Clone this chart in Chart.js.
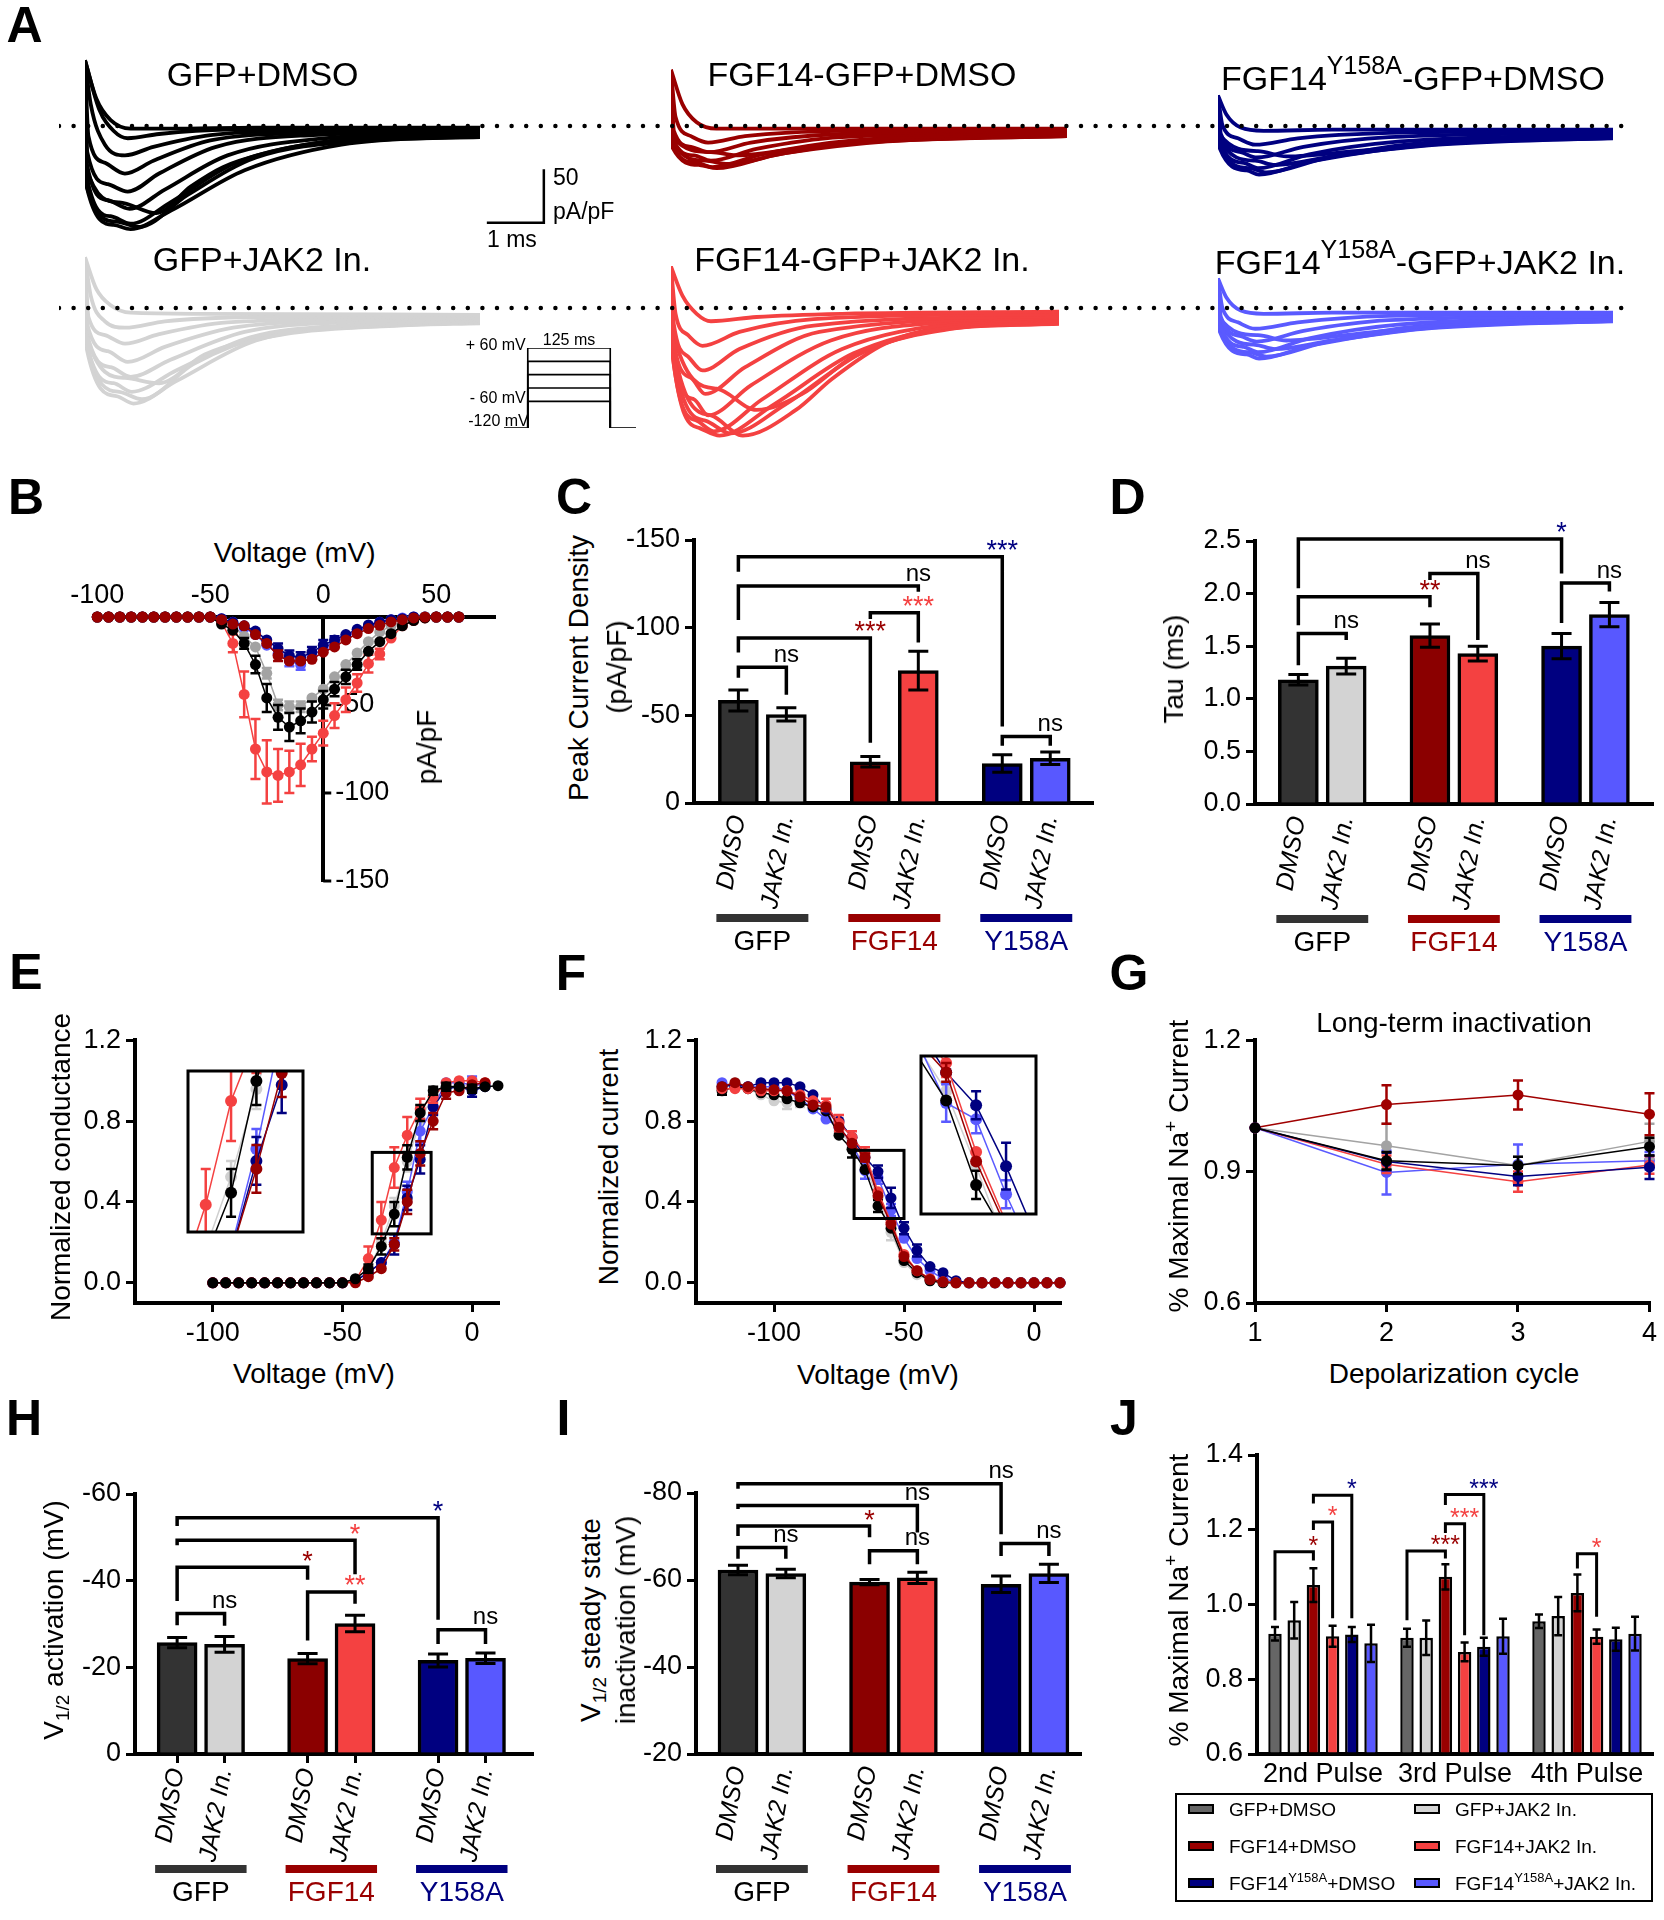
<!DOCTYPE html>
<html>
<head>
<meta charset="utf-8">
<title>FGF14 / JAK2 inhibition of Nav1.6 currents</title>
<script src="https://cdn.jsdelivr.net/npm/chart.js@4.4.1/dist/chart.umd.min.js"></script>
<style>
  body { margin: 0; background: #fff; }
  #page { position: relative; width: 1664px; height: 1920px; overflow: hidden; background: #fff;
          font-family: "Liberation Sans", Arial, Helvetica, sans-serif; color: #000; }
  #page canvas { position: absolute; }
  .t { position: absolute; white-space: nowrap; line-height: 1; z-index: 5; }
  .sup { font-size: 25px; position: relative; top: -16px; }
  .hsup { font-size: 19px; position: relative; top: -11px; }
  .sub { font-size: 19px; position: relative; top: 6px; }
  .lsup { font-size: 13px; position: relative; top: -8px; }
  #legendJ { position: absolute; left: 1175px; top: 1793px; width: 478px; height: 109px;
             border: 2.5px solid #000; box-sizing: border-box; z-index: 5; }
  #legendJ .sw { position: absolute; width: 26px; height: 10px; border: 2px solid #000; box-sizing: border-box; }
  #legendJ .lt { position: absolute; font-size: 19px; line-height: 1; white-space: nowrap; transform: translateY(-50%); }
</style>
</head>
<body>
<div id="page"></div>
<script>
// ---------------- data ----------------

// A: example current traces, each point is [time (ms), current (pA/pF)]
const traceGfpDmso = [
  [[0,61],[0.2,25],[0.45,5],[0.8,-3],[1.5,-3],[3,-2],[6.93,-2]],
  [[0,61],[0.25,15],[0.5,-5],[0.75,-12],[1.3,-8],[2.5,-4],[6.93,-3]],
  [[0,61],[0.1,20],[0.35,-18],[0.7,-28],[1.2,-20],[2.2,-9],[4,-5],[6.93,-4]],
  [[0,61],[0.06,-10],[0.35,-35],[0.7,-45],[1.2,-33],[2.2,-14],[4,-7],[6.93,-5]],
  [[0,61],[0.04,-25],[0.4,-55],[0.75,-62],[1.3,-45],[2.3,-20],[4,-9],[6.93,-6]],
  [[0,61],[0.03,-35],[0.4,-70],[0.78,-78],[1.4,-60],[2.5,-28],[4.2,-12],[6.93,-7]],
  [[0,61],[0.02,-45],[0.45,-85],[0.8,-92],[1.5,-72],[2.6,-36],[4.3,-15],[6.93,-9]],
  [[0,61],[0.02,-55],[0.5,-93],[0.8,-97],[1.5,-80],[2.8,-42],[4.5,-18],[6.93,-10]],
  [[0,61],[0.02,-55],[0.55,-90],[0.95,-95],[1.8,-65],[3,-30],[5,-14],[6.93,-11]],
  [[0,61],[0.02,-40],[0.6,-72],[1.25,-82],[1.86,-57],[2.42,-39],[3.16,-26],[4.1,-16],[5,-11.5],[6.93,-10.5]]
];
const traceGfpJak = [
  [[0,48],[0.2,18],[0.45,3],[0.8,-4],[2,-5],[6.93,-6]],
  [[0,48],[0.1,12],[0.35,-12],[0.7,-18],[1.4,-12],[3,-8],[6.93,-7]],
  [[0,48],[0.06,-8],[0.35,-25],[0.7,-33],[1.3,-24],[2.5,-13],[6.93,-8]],
  [[0,48],[0.04,-15],[0.4,-40],[0.75,-50],[1.4,-36],[2.6,-18],[4.5,-11],[6.93,-9]],
  [[0,48],[0.03,-22],[0.45,-55],[0.8,-64],[1.5,-48],[2.8,-22],[4.5,-13],[6.93,-10]],
  [[0,48],[0.02,-30],[0.5,-70],[0.82,-78],[1.6,-58],[2.9,-27],[4.8,-15],[6.93,-11]],
  [[0,48],[0.02,-35],[0.55,-82],[0.85,-89],[1.6,-68],[3,-30],[5,-16],[6.93,-12]],
  [[0,48],[0.02,-32],[0.6,-78],[1.0,-85],[1.9,-52],[3.2,-25],[5,-17],[6.93,-13]],
  [[0,48],[0.02,-25],[0.7,-65],[1.3,-70],[2.1,-43],[3.5,-24],[5.5,-16],[6.93,-14]]
];
const traceFgfDmso = [
  [[0,52],[0.2,20],[0.45,3],[0.8,-3],[2,-3],[6.95,-3]],
  [[0,52],[0.08,8],[0.35,-10],[0.65,-16],[1.3,-10],[3,-5],[6.95,-4]],
  [[0,52],[0.05,-5],[0.35,-20],[0.68,-25],[1.4,-16],[3,-8],[6.95,-5]],
  [[0,52],[0.03,-12],[0.4,-28],[0.7,-33],[1.5,-22],[3,-11],[6.95,-7]],
  [[0,52],[0.02,-18],[0.45,-35],[0.72,-39],[1.6,-27],[3.2,-14],[6.95,-8]],
  [[0,52],[0.02,-20],[0.5,-37],[0.8,-40],[1.8,-28],[3.5,-15],[6.95,-9]],
  [[0,52],[0.02,-15],[0.6,-33],[1.0,-36],[2.0,-26],[3.8,-15],[6.95,-10]],
  [[0,52],[0.02,-10],[0.7,-25],[1.2,-28],[2.3,-21],[4,-14],[6.95,-10]]
];
const traceFgfJak = [
  [[0,39],[0.2,12],[0.45,-5],[0.7,-12],[1.5,-8],[3,-5],[6.8,-3]],
  [[0,39],[0.08,-5],[0.3,-25],[0.55,-35],[1.2,-22],[2.5,-10],[6.8,-5]],
  [[0,39],[0.05,-15],[0.3,-45],[0.55,-58],[1.2,-38],[2.5,-16],[6.8,-7]],
  [[0,39],[0.03,-25],[0.35,-65],[0.6,-80],[1.3,-55],[2.6,-22],[6.8,-8]],
  [[0,39],[0.02,-35],[0.4,-85],[0.65,-100],[1.4,-72],[2.8,-30],[5,-12],[6.8,-9]],
  [[0,39],[0.02,-40],[0.45,-105],[0.75,-115],[1.6,-85],[3,-38],[5,-14],[6.8,-10]],
  [[0,39],[0.02,-40],[0.5,-112],[0.85,-119],[1.8,-90],[3.2,-42],[5,-16],[6.8,-11]],
  [[0,39],[0.02,-35],[0.6,-105],[1.05,-117],[2,-90],[3.4,-40],[5.2,-17],[6.8,-12]],
  [[0,39],[0.02,-30],[0.7,-100],[1.26,-119],[2.19,-95],[2.82,-66],[3.75,-33],[4.68,-19],[6.8,-14.5]],
  [[0,39],[0.02,-20],[0.8,-75],[1.5,-95],[2.3,-80],[3.2,-45],[4.5,-22],[6.8,-14]]
];
const traceMutDmso = [
  [[0,28],[0.15,10],[0.4,-2],[0.8,-5],[2,-4],[6.93,-4]],
  [[0,28],[0.08,0],[0.35,-12],[0.65,-18],[1.4,-12],[3,-7],[6.93,-5]],
  [[0,28],[0.05,-8],[0.4,-25],[0.68,-30],[1.5,-20],[3,-11],[6.93,-7]],
  [[0,28],[0.03,-15],[0.45,-35],[0.7,-40],[1.6,-27],[3.2,-15],[6.93,-9]],
  [[0,28],[0.02,-20],[0.5,-42],[0.72,-46],[1.6,-34],[3.3,-18],[6.93,-10]],
  [[0,28],[0.02,-18],[0.55,-40],[0.85,-44],[1.8,-32],[3.5,-19],[6.93,-11]],
  [[0,28],[0.02,-12],[0.65,-33],[1.0,-37],[2.0,-29],[3.6,-19],[6.93,-11.5]],
  [[0,28],[0.02,-8],[0.7,-24],[1.2,-29],[2.4,-24],[4,-16],[6.93,-12]]
];
const traceMutJak = [
  [[0,28],[0.15,10],[0.4,-2],[0.8,-5],[2,-4],[6.93,-4]],
  [[0,28],[0.08,0],[0.35,-13],[0.65,-19],[1.4,-13],[3,-7],[6.93,-5]],
  [[0,28],[0.05,-8],[0.4,-26],[0.68,-31],[1.5,-21],[3,-11],[6.93,-7]],
  [[0,28],[0.03,-15],[0.45,-36],[0.7,-41],[1.6,-28],[3.2,-15],[6.93,-9]],
  [[0,28],[0.02,-20],[0.5,-43],[0.72,-47],[1.6,-35],[3.3,-18],[6.93,-10]],
  [[0,28],[0.02,-18],[0.55,-41],[0.85,-45],[1.8,-33],[3.5,-19],[6.93,-11]],
  [[0,28],[0.02,-12],[0.65,-34],[1.0,-38],[2.0,-30],[3.6,-19],[6.93,-11.5]],
  [[0,28],[0.02,-8],[0.7,-25],[1.2,-30],[2.4,-24],[4,-16],[6.93,-12]]
];
const scaleBarMs = 1;
const scaleBarPA = 50;
const protocolSteps = [60, 30, 0, -30, -60];   // mV
const protocolHold = -120;                      // mV
const protocolTimes = [-36, 0, 125, 164];       // ms

// B: current-voltage relationship (pA/pF)
const ivVoltage = [-100,-95,-90,-85,-80,-75,-70,-65,-60,-55,-50, -45,-40,-35,-30,-25,-20,-15,-10,-5,0,5, 10,15,20,25,30,35,40,45,50,55,60];
const ivGfpDmso = [0,0,0,0,0,0,0,0,0,0,0, -4,-7.5,-15,-27,-46,-57,-62.5,-59,-54,-47,-41, -34,-27,-19.5,-14,-9.5,-5,-2,-0.5,0,0,0];
const ivGfpJak  = [0,0,0,0,0,0,0,0,0,0,0, -2,-5,-11,-17,-32,-50,-51,-51,-46,-41,-34, -27,-20.5,-14,-8.5,-5,-3,-1,0,0,0,0];
const ivFgfDmso = [0,0,0,0,0,0,0,0,0,0,0, -1.5,-4,-5,-10,-15,-22,-25,-25,-24,-20,-17, -13,-9.5,-6.6,-4.7,-2.8,-1.5,-0.5,0,0,0,0];
const ivFgfJak  = [0,0,0,0,0,0,0,0,0,0,0, -3,-15,-44,-75,-88,-90,-88,-84,-75,-66,-56, -47,-37.5,-26.5,-21,-12,-5,-2,-0.5,0,0,0];
const ivMutDmso = [0,0,0,0,0,0,0,0,0,0,0, -1,-3,-5,-8,-13,-18,-22,-23,-20,-16,-13, -10,-7,-4.5,-3,-1.5,-1,0,0,0,0,0];
const ivMutJak  = [0,0,0,0,0,0,0,0,0,0,0, -1,-3,-6,-10,-16,-21,-25,-27,-22,-18,-14, -11,-8,-5,-3,-1.5,-0.5,0,0,0,0,0];
const ivGfpDmsoErr = [0,0,0,0,0,0,0,0,0,0,0, 0,0,3,5,8,7,8,7,6,5,4, 4,3,0,0,0,0,0,0,0,0,0];
const ivGfpJakErr  = [0,0,0,0,0,0,0,0,0,0,0, 0,0,0,0,3,3,3,3,0,0,0, 0,0,0,0,0,0,0,0,0,0,0];
const ivFgfDmsoErr = [0,0,0,0,0,0,0,0,0,0,0, 0,0,0,0,0,3,0,0,0,0,0, 0,0,0,0,0,0,0,0,0,0,0];
const ivFgfJakErr  = [0,0,0,0,0,0,0,0,0,0,0, 0,5,13,17,18,15,12,12,7,7,7, 7,5,5,3,0,0,0,0,0,0,0];
const ivMutDmsoErr = [0,0,0,0,0,0,0,0,0,0,0, 0,0,0,0,0,3,3,3,3,3,2, 0,0,0,0,0,0,0,0,0,0,0];
const ivMutJakErr  = [0,0,0,0,0,0,0,0,0,0,0, 0,0,0,0,0,0,3,3,0,0,0, 0,0,0,0,0,0,0,0,0,0,0];
const ivXTicks = [-100, -50, 0, 50];
const ivYTicks = [-50, -100, -150];

// C, D, H, I: bar summaries
const barLabels = ['DMSO', 'JAK2 In.', 'DMSO', 'JAK2 In.', 'DMSO', 'JAK2 In.'];
const barPos = [0, 1, 2.75, 3.75, 5.5, 6.5];
const barGroups = [[0, 1, 'GFP', '#333333', '#000000'], [2, 3, 'FGF14', '#990000', '#990000'], [4, 5, 'Y158A', '#000080', '#000080']];
const peakDensity    = [-58.5, -50.5, -23.5, -75.5, -22.5, -25.5];
const peakDensityErr = [6, 3.8, 3, 11, 5, 3.6];
const tauMs          = [1.18, 1.31, 1.60, 1.43, 1.50, 1.80];
const tauErr         = [0.05, 0.075, 0.11, 0.07, 0.12, 0.115];
const vHalfAct       = [-25.7, -25.3, -22.0, -30.1, -21.6, -22.1];
const vHalfActErr    = [1.2, 1.8, 1.2, 1.9, 1.5, 1.2];
const vHalfInact     = [-62.3, -61.5, -59.5, -60.5, -59.0, -61.5];
const vHalfInactErr  = [1.1, 1.0, 0.6, 1.3, 1.9, 2.1];

// significance brackets: [barA, barB, level, end of leg A, end of leg B, label, colour]
const DR = '#990000', RD = '#f44141', NV = '#000080', BK = '#000000';
const peakBrackets = [[0,1,-77.4,-71.4,-61.7,'ns',BK], [0,2,-94.1,-85.8,-34.3,'***',DR], [2,3,-108.5,-105,-91.5,'***',RD],
                      [0,3,-123.7,-104.4,-120.5,'ns',BK], [0,4,-140.4,-131.9,-43.6,'***',NV], [4,5,-37.9,-32.6,-32.6,'ns',BK]];
const tauBrackets  = [[0,1,1.62,1.32,1.56,'ns',BK], [0,2,1.97,1.70,1.87,'**',DR], [2,3,2.19,2.13,1.56,'ns',BK],
                      [0,4,2.52,2.05,2.19,'*',NV], [4,5,2.10,1.72,2.02,'ns',BK]];
const actBrackets  = [[0,1,-32.4,-29.7,-29.6,'ns',BK], [2,3,-37.4,-26.2,-34.7,'**',RD], [0,2,-43.1,-35.3,-40.2,'*',DR],
                      [0,3,-49.3,-48.2,-41.5,'*',RD], [0,4,-54.5,-52.6,-31,'*',NV], [4,5,-28.7,-25.4,-25.4,'ns',BK]];
const inactBrackets = [[0,1,-67.5,-64.9,-64.9,'ns',BK], [0,2,-72.4,-70.1,-69.8,'*',DR], [2,3,-66.7,-63.6,-63.6,'ns',BK],
                       [0,3,-77.1,-76.3,-70.9,'ns',BK], [0,4,-82.1,-81,-70.5,'ns',BK], [4,5,-68.4,-65.5,-65.5,'ns',BK]];

// E: conductance-voltage
const gvVoltage = [-100,-95,-90,-85,-80,-75,-70,-65,-60,-55,-50,-45,-40,-35,-30,-25,-20,-15,-10,-5,0,5,10];
const gvGfpDmso = [0,0,0,0,0,0,0,0,0,0,0, 0.02,0.07,0.18,0.34,0.62,0.84,0.95,0.97,0.97,0.96,0.97,0.975];
const gvGfpJak  = [0,0,0,0,0,0,0,0,0,0,0, 0.01,0.06,0.2,0.38,0.6,0.8,0.93,0.97,0.98,0.97,0.98,null];
const gvFgfDmso = [0,0,0,0,0,0,0,0,0,0,0, 0,0.03,0.07,0.19,0.40,0.64,0.80,0.94,0.95,0.98,0.99,null];
const gvFgfJak  = [0,0,0,0,0,0,0,0,0,0,0, 0.01,0.12,0.31,0.57,0.73,0.86,0.92,0.99,1.0,1.0,0.99,null];
const gvMutDmso = [0,0,0,0,0,0,0,0,0,0,0, 0.01,0.05,0.1,0.19,0.42,0.61,0.87,0.96,0.97,0.95,0.97,null];
const gvMutJak  = [0,0,0,0,0,0,0,0,0,0,0, 0.01,0.05,0.1,0.2,0.45,0.75,0.87,0.99,0.99,0.98,0.98,null];
const gvGfpDmsoErr = [0,0,0,0,0,0,0,0,0,0,0,0,.02,.04,.06,.06,.04,.02,.02,0,.02,0,0];
const gvGfpJakErr  = [0,0,0,0,0,0,0,0,0,0,0,0,0,0,.04,.05,0,0,0,0,0,0,0];
const gvFgfDmsoErr = [0,0,0,0,0,0,0,0,0,0,0,0,0,0,.03,.06,.06,.04,.03,0,0,0,0];
const gvFgfJakErr  = [0,0,0,0,0,0,0,0,0,0,0,0,.06,.09,.1,.09,.05,.03,0,0,0,0,0];
const gvMutDmsoErr = [0,0,0,0,0,0,0,0,0,0,0,0,0,0,.05,.06,.07,.04,0,0,.03,0,0];
const gvMutJakErr  = [0,0,0,0,0,0,0,0,0,0,0,0,0,0,0,.05,.06,0,0,0,.04,0,0];
const gvInsetX = [-38.5, -15.8];
const gvInsetY = [0.242, 0.645];

// F: steady-state inactivation
const ssiVoltage = [-120,-115,-110,-105,-100,-95,-90,-85,-80, -75,-70,-65,-60,-55,-50,-45,-40,-35, -30,-25,-20,-15,-10,-5,0,5,10];
const ssiGfpDmso = [.95,.97,.96,.94,.93,.91,.89,.87,.85, .73,.66,.56,.38,.27,.11,.05,.01,0, 0,0,0,0,0,0,0,0,0];
const ssiGfpJak  = [.97,.99,.96,.93,.90,.89,.91,.89,.84, .75,.68,.58,.42,.25,.10,.04,.01,0, 0,0,0,0,0,0,0,0,0];
const ssiFgfDmso = [.97,.99,.97,.96,.955,.95,.92,.88,.87, .77,.69,.62,.43,.29,.13,.06,.016,.005, 0,0,0,0,0,0,0,0,0];
const ssiFgfJak  = [.96,.96,.96,.95,.95,.95,.93,.90,.88, .79,.72,.64,.45,.30,.14,.06,.02,.005, 0,0,0,0,0,0,0,0,0];
const ssiMutDmso = [.97,.98,.97,.99,.99,.99,.97,.93,.86, .80,.72,.62,.55,.42,.27,.16,.08,.05, .01,0,0,0,0,0,0,0,0];
const ssiMutJak  = [.99,.97,.97,.97,.97,.95,.91,.86,.81, .77,.69,.555,.52,.36,.22,.12,.06,.02, .005,0,0,0,0,0,0,0,0];
const ssiGfpDmsoErr = [.02,0,0,0,0,0,0,0,0, 0,.04,0,.03,0,0,0,0,0, 0,0,0,0,0,0,0,0,0];
const ssiGfpJakErr  = [0,0,0,0,0,.03,.04,0,0, 0,0,0,0,.04,0,0,0,0, 0,0,0,0,0,0,0,0,0];
const ssiFgfDmsoErr = [0,0,0,0,0,0,0,0,0, 0,0,.02,0,0,0,0,0,0, 0,0,0,0,0,0,0,0,0];
const ssiFgfJakErr  = [0,0,0,0,0,0,0,0,.03, .04,.03,.03,0,0,0,0,0,0, 0,0,0,0,0,0,0,0,0];
const ssiMutDmsoErr = [0,0,0,0,0,0,0,0,0, 0,0,0,.03,.05,.03,.03,0,0, 0,0,0,0,0,0,0,0,0];
const ssiMutJakErr  = [0,0,0,0,0,0,0,0,0, 0,0,.04,.03,.03,0,0,0,0, 0,0,0,0,0,0,0,0,0];
const ssiInsetX = [-69.2, -50];
const ssiInsetY = [0.318, 0.655];

// G: long-term inactivation
const ltiCycle = [1, 2, 3, 4];
const ltiGfpDmso = [1, 0.925, 0.914, 0.957], ltiGfpDmsoErr = [0, .02, .02, .02];
const ltiGfpJak  = [1, 0.959, 0.914, 0.969], ltiGfpJakErr  = [0, .05, .02, .04];
const ltiFgfDmso = [1, 1.053, 1.075, 1.031], ltiFgfDmsoErr = [0, .044, .033, .048];
const ltiFgfJak  = [1, 0.917, 0.877, 0.915], ltiFgfJakErr  = [0, .02, .023, .02];
const ltiMutDmso = [1, 0.923, 0.889, 0.910], ltiMutDmsoErr = [0, .02, .02, .027];
const ltiMutJak  = [1, 0.898, 0.917, 0.925], ltiMutJakErr  = [0, .05, .045, .02];

// J: use-dependent current per pulse
const pulseLabels = ['2nd Pulse', '3rd Pulse', '4th Pulse'];
const jNames  = ['GFP+DMSO', 'GFP+JAK2 In.', 'FGF14+DMSO', 'FGF14+JAK2 In.', 'FGF14<span class="lsup">Y158A</span>+DMSO', 'FGF14<span class="lsup">Y158A</span>+JAK2 In.'];
const jColors = ['#666666', '#d3d3d3', '#990000', '#f44141', '#000080', '#5858ff'];
const jValues = [[0.922, 0.911, 0.955], [0.958, 0.911, 0.969], [1.052, 1.074, 1.031],
                 [0.915, 0.873, 0.914], [0.920, 0.887, 0.907], [0.896, 0.915, 0.922]];
const jErrors = [[.018, .024, .018], [.049, .046, .051], [.045, .034, .049],
                 [.028, .025, .019], [.02, .024, .031], [.05, .047, .045]];
// [pulse, seriesA, seriesB, level, leg A end, leg B end, label, colour]
const jBrackets = [[0,0,2,1.141,0.958,1.118,'*',DR], [0,2,3,1.221,1.199,0.963,'*',RD], [0,2,4,1.292,1.27,0.963,'*',NV],
                   [1,0,2,1.143,0.958,1.123,'***',DR], [1,2,3,1.216,1.191,0.918,'***',RD], [1,2,4,1.294,1.266,0.918,'***',NV],
                   [2,2,3,1.136,1.096,0.967,'*',RD]];

const barColors = ['#333333', '#d3d3d3', '#8b0000', '#f44141', '#000080', '#5858ff'];

// ---------------- setup ----------------
const FONT = '"Liberation Sans", Arial, Helvetica, sans-serif';
const TICK = 27, TITLE = 28;
Chart.defaults.font.family = FONT;
Chart.defaults.color = '#000';
Chart.defaults.animation = false;
Chart.defaults.responsive = false;
Chart.defaults.events = [];
Chart.defaults.plugins.legend.display = false;
Chart.defaults.plugins.tooltip.enabled = false;

const page = document.getElementById('page');

function canvasAt(x, y, w, h, z) {
  const c = document.createElement('canvas');
  c.width = Math.round(w);
  c.height = Math.round(h);
  c.style.left = Math.round(x) + 'px';
  c.style.top = Math.round(y) + 'px';
  c.style.zIndex = z || 1;
  page.appendChild(c);
  return c;
}

// area = wanted plot area on the page; yW / xH = fixed axis box sizes
function chartAt(area, yW, xH, pad, config, z) {
  const p = Object.assign({left: 0, right: 0, top: 0, bottom: 0}, pad);
  const cv = canvasAt(area.l - yW - p.left, area.t - p.top,
    p.left + yW + (area.r - area.l) + p.right,
    p.top + (area.b - area.t) + xH + p.bottom, z);
  config.options = config.options || {};
  config.options.layout = {padding: p, autoPadding: false};
  return new Chart(cv, config);
}

function axBorder() { return {display: true, width: 4, color: '#000'}; }
function tickGrid(on) {
  return {display: on, drawOnChartArea: false, drawTicks: on, tickLength: 9, lineWidth: 3, color: '#000', offset: false};
}
const intFmt = v => String(v);
const dec1 = v => v.toFixed(1);

function linAxis(min, max, tickVals, fmt, fitKey, fitVal, o) {
  o = o || {};
  return {
    type: 'linear', min: min, max: max, reverse: !!o.reverse, beginAtZero: false,
    afterBuildTicks: s => { s.ticks = tickVals.map(v => ({value: v})); },
    afterFit: s => { s[fitKey] = fitVal; },
    border: axBorder(),
    grid: tickGrid(o.marks !== false),
    ticks: {padding: 5, maxRotation: 0, autoSkip: false, font: {size: TICK}, callback: fmt}
  };
}

// error bars, drawn right after their own dataset
Chart.register({
  id: 'errorBars',
  afterDatasetDraw(chart, args) {
    const ds = chart.data.datasets[args.index];
    if (!ds.errors) return;
    const meta = args.meta, ys = chart.scales[meta.yAxisID], ctx = chart.ctx;
    const cap = ds.capHalf || 5;
    ctx.save();
    if (ds.errClip) {
      const a = chart.chartArea;
      ctx.beginPath(); ctx.rect(a.left, a.top, a.width, a.height); ctx.clip();
    }
    ctx.strokeStyle = ds.errColor || ds.borderColor;
    ctx.lineWidth = ds.errWidth || 2;
    meta.data.forEach((el, i) => {
      const e = ds.errors[i], d = ds.data[i];
      const v = (d !== null && typeof d === 'object') ? d.y : d;
      if (!e || v === null || v === undefined) return;
      const y1 = ys.getPixelForValue(v + e), y2 = ys.getPixelForValue(v - e), x = el.x;
      ctx.beginPath();
      ctx.moveTo(x, y1); ctx.lineTo(x, y2);
      ctx.moveTo(x - cap, y1); ctx.lineTo(x + cap, y1);
      ctx.moveTo(x - cap, y2); ctx.lineTo(x + cap, y2);
      ctx.stroke();
    });
    ctx.restore();
  }
});

function bracketPlugin(items, xOf, lw, starSize) {
  return {
    id: 'brackets',
    afterDraw(chart) {
      const ctx = chart.ctx, ys = chart.scales.y;
      ctx.save();
      ctx.lineWidth = lw; ctx.strokeStyle = '#000'; ctx.lineJoin = 'miter';
      ctx.textAlign = 'center'; ctx.textBaseline = 'middle';
      items.forEach(([a, b, lvl, endA, endB, label, color]) => {
        const xa = xOf(chart, a), xb = xOf(chart, b), yl = ys.getPixelForValue(lvl);
        ctx.beginPath();
        ctx.moveTo(xa, ys.getPixelForValue(endA));
        ctx.lineTo(xa, yl); ctx.lineTo(xb, yl);
        ctx.lineTo(xb, ys.getPixelForValue(endB));
        ctx.stroke();
        const star = label.indexOf('*') >= 0;
        ctx.fillStyle = color;
        ctx.font = (star ? starSize : 24) + 'px ' + FONT;
        ctx.fillText(label, xb, yl - (star ? 5 : 12));
      });
      ctx.restore();
    }
  };
}

const barX = (chart, i) => chart.getDatasetMeta(0).data[i].x;
const jX = (chart, k) => chart.getDatasetMeta(k[1]).data[k[0]].x;

function groupPlugin(groups) {
  return {
    id: 'groups',
    afterDraw(chart) {
      const ctx = chart.ctx, base = chart.chartArea.bottom;
      ctx.save();
      ctx.textAlign = 'center'; ctx.textBaseline = 'middle';
      ctx.font = TITLE + 'px ' + FONT;
      groups.forEach(([a, b, label, bar, ink]) => {
        const x1 = barX(chart, a) - 22, x2 = barX(chart, b) + 22;
        ctx.fillStyle = bar;
        ctx.fillRect(x1, base + 111, x2 - x1, 8);
        ctx.fillStyle = ink;
        ctx.fillText(label, (x1 + x2) / 2, base + 139);
      });
      ctx.restore();
    }
  };
}

function regionBox(rx, ry) {
  return {
    id: 'regionBox',
    afterDatasetsDraw(chart) {
      const {ctx, scales: {x, y}} = chart;
      const x1 = x.getPixelForValue(rx[0]), x2 = x.getPixelForValue(rx[1]);
      const y1 = y.getPixelForValue(ry[1]), y2 = y.getPixelForValue(ry[0]);
      ctx.save(); ctx.strokeStyle = '#000'; ctx.lineWidth = 3;
      ctx.strokeRect(x1, y1, x2 - x1, y2 - y1);
      ctx.restore();
    }
  };
}

const insetFrame = {
  id: 'insetFrame',
  beforeDraw(chart) {
    const a = chart.chartArea, ctx = chart.ctx;
    ctx.save(); ctx.fillStyle = '#fff'; ctx.fillRect(a.left, a.top, a.width, a.height); ctx.restore();
  },
  afterDraw(chart) {
    const a = chart.chartArea, ctx = chart.ctx;
    ctx.save(); ctx.strokeStyle = '#000'; ctx.lineWidth = 3;
    ctx.strokeRect(a.left, a.top, a.width, a.height); ctx.restore();
  }
};

function series(xs, ys, errs, color, o) {
  return Object.assign({
    data: xs.map((x, i) => ({x: x, y: ys[i]})),
    errors: errs, borderColor: color, backgroundColor: color,
    pointBackgroundColor: color, pointBorderColor: color, pointBorderWidth: 0,
    pointRadius: 5.5, borderWidth: 1.5, capHalf: 5, errWidth: 2.5, clip: false, tension: 0
  }, o || {});
}

// ---------------- A: traces ----------------
const pxPerMs = 57, pxPerPA = 1.066, traceRange = [-125, 65];
const scaleBarOrigin = [7.05, -91];

const scaleBar = {
  id: 'scaleBar',
  afterDraw(chart) {
    const {ctx, scales: {x, y}} = chart;
    const x1 = x.getPixelForValue(scaleBarOrigin[0]), x2 = x.getPixelForValue(scaleBarOrigin[0] + scaleBarMs);
    const y1 = y.getPixelForValue(scaleBarOrigin[1]), y2 = y.getPixelForValue(scaleBarOrigin[1] + scaleBarPA);
    ctx.save(); ctx.strokeStyle = '#000'; ctx.lineWidth = 2.5;
    ctx.beginPath(); ctx.moveTo(x1, y1); ctx.lineTo(x2, y1); ctx.lineTo(x2, y2); ctx.stroke();
    ctx.restore();
  }
};

function traceChart(x0, baseline, traces, color, padRight, plugins) {
  const tMax = Math.max(...traces.map(tr => tr[tr.length - 1][0]));
  const top = baseline - traceRange[1] * pxPerPA;
  const area = {l: x0, r: x0 + tMax * pxPerMs, t: top, b: top + (traceRange[1] - traceRange[0]) * pxPerPA};
  return chartAt(area, 0, 0, {top: 8, right: padRight, left: 8, bottom: 8}, {
    type: 'line',
    data: {datasets: traces.map(tr => ({
      data: tr.map(([t, v]) => ({x: t, y: v})),
      borderColor: color, borderWidth: 3.8, pointRadius: 0, cubicInterpolationMode: 'monotone', fill: false
    }))},
    options: {scales: {
      x: {type: 'linear', display: false, min: 0, max: tMax},
      y: {type: 'linear', display: false, min: traceRange[0], max: traceRange[1]}
    }},
    plugins: plugins || []
  });
}

const row1 = 125.7, row2 = 308.3;
traceChart(85, row1, traceGfpDmso, '#000000', 75, [scaleBar]);
traceChart(671, row1, traceFgfDmso, '#990000', 8);
traceChart(1217.8, row1, traceMutDmso, '#000080', 8);
traceChart(85, row2, traceGfpJak, '#d3d3d3', 8);
traceChart(671, row2, traceFgfJak, '#f44141', 8);
traceChart(1217.8, row2, traceMutJak, '#5a5aff', 8);

function dottedRow(y) {
  chartAt({l: 59.4, r: 1629.5, t: y - 10, b: y + 10}, 0, 0, {top: 4, bottom: 4, left: 4, right: 4}, {
    type: 'line',
    data: {datasets: [{data: [{x: 0, y: 0}, {x: 1, y: 0}], borderColor: '#000', borderWidth: 4.5,
      borderDash: [0, 14.6], borderCapStyle: 'round', pointRadius: 0}]},
    options: {scales: {x: {type: 'linear', display: false, min: 0, max: 1}, y: {type: 'linear', display: false, min: -1, max: 1}}}
  }, 3);
}
dottedRow(row1);
dottedRow(row2);

// voltage protocol sketch
(function () {
  const [t0, t1, t2, t3] = protocolTimes;
  const sets = [
    {data: [{x: t0, y: protocolHold}, {x: t1, y: protocolHold}]},
    {data: [{x: t2, y: protocolHold}, {x: t3, y: protocolHold}]}
  ].concat(protocolSteps.map(L => ({data: [{x: t1, y: protocolHold}, {x: t1, y: L}, {x: t2, y: L}, {x: t2, y: protocolHold}]})));
  sets.forEach(d => Object.assign(d, {borderColor: '#000', borderWidth: 1.6, pointRadius: 0, tension: 0}));
  const protocolText = {
    id: 'protocolText',
    afterDraw(chart) {
      const {ctx, scales: {x, y}} = chart;
      const top = protocolSteps[0], low = protocolSteps[protocolSteps.length - 1];
      ctx.save(); ctx.fillStyle = '#000'; ctx.font = '16px ' + FONT;
      ctx.textAlign = 'right'; ctx.textBaseline = 'middle';
      ctx.fillText('+ ' + top + ' mV', x.getPixelForValue(t1) - 2, y.getPixelForValue(top) - 2);
      ctx.fillText('- ' + Math.abs(low) + ' mV', x.getPixelForValue(t1) - 2, y.getPixelForValue(low) - 3);
      ctx.textBaseline = 'alphabetic';
      ctx.fillText(protocolHold + ' mV', x.getPixelForValue(t1) + 1, y.getPixelForValue(protocolHold) - 2);
      ctx.textAlign = 'center';
      ctx.fillText((t2 - t1) + ' ms', x.getPixelForValue((t1 + t2) / 2), y.getPixelForValue(top) - 3);
      ctx.restore();
    }
  };
  chartAt({l: 504, r: 635.5, t: 348.3, b: 428.3}, 0, 0, {top: 30, left: 62, right: 5, bottom: 5}, {
    type: 'line',
    data: {datasets: sets},
    options: {scales: {
      x: {type: 'linear', display: false, min: t0, max: t3},
      y: {type: 'linear', display: false, min: protocolHold, max: protocolSteps[0]}
    }},
    plugins: [protocolText]
  });
})();

// ---------------- B: I-V ----------------
const ivAxisText = {
  id: 'ivAxisText',
  beforeDatasetsDraw(chart) {
    const {ctx, scales: {x, y}} = chart;
    const x0 = x.getPixelForValue(0), y0 = y.getPixelForValue(0);
    ctx.save();
    ctx.fillStyle = '#000'; ctx.strokeStyle = '#000'; ctx.lineWidth = 3;
    ctx.font = TICK + 'px ' + FONT;
    ctx.textAlign = 'center'; ctx.textBaseline = 'middle';
    ivXTicks.forEach(v => ctx.fillText(String(v), x.getPixelForValue(v), y0 - 21));
    ctx.textAlign = 'left';
    ivYTicks.forEach(v => {
      const py = y.getPixelForValue(v);
      ctx.beginPath(); ctx.moveTo(x0, py); ctx.lineTo(x0 + 8, py); ctx.stroke();
      ctx.fillText(String(v), x0 + 12, py);
    });
    ctx.restore();
  }
};
chartAt({l: 94.6, r: 494.6, t: 616.7, b: 880.7}, 0, 0, {top: 40, left: 30, right: 30, bottom: 20}, {
  type: 'line',
  data: {datasets: [
    series(ivVoltage, ivFgfDmso, ivFgfDmsoErr, '#990000'),
    series(ivVoltage, ivGfpDmso, ivGfpDmsoErr, '#000000'),
    series(ivVoltage, ivFgfJak, ivFgfJakErr, '#f44141'),
    series(ivVoltage, ivGfpJak, ivGfpJakErr, '#a3a3a3'),
    series(ivVoltage, ivMutDmso, ivMutDmsoErr, '#000080'),
    series(ivVoltage, ivMutJak, ivMutJakErr, '#5a5aff')
  ]},
  options: {scales: {
    x: {type: 'linear', min: -101, max: 76, position: {y: 0}, border: axBorder(), grid: {display: false, drawTicks: false}, ticks: {display: false}},
    y: {type: 'linear', min: -150, max: 0, position: {x: 0}, border: axBorder(), grid: {display: false, drawTicks: false}, ticks: {display: false}}
  }},
  plugins: [ivAxisText]
});

// ---------------- bar panels C, D, H, I ----------------
function barPanel(area, xr, vals, errs, yAx, brackets, marks, base) {
  const yW = 80, xH = 165;
  const ds = {
    data: vals.map((v, i) => ({x: barPos[i], y: v})),
    backgroundColor: barColors, borderColor: '#000', borderWidth: 3.5, borderSkipped: 'start',
    barThickness: 40, errors: errs, errColor: '#000', errWidth: 3, capHalf: 10
  };
  if (base !== undefined) ds.base = base;
  return chartAt(area, yW, xH, {top: 50, right: 12}, {
    type: 'bar',
    data: {datasets: [ds]},
    options: {scales: {
      x: {type: 'linear', min: xr[0], max: xr[1], offset: false,
          afterBuildTicks: s => { s.ticks = barPos.map(v => ({value: v})); },
          afterFit: s => { s.height = xH; },
          border: axBorder(), grid: tickGrid(marks),
          ticks: {autoSkip: false, minRotation: 80, maxRotation: 80, padding: marks ? 3 : 10,
                  font: {size: 25, style: 'italic'}, callback: (v, i) => barLabels[i]}},
      y: yAx
    }},
    plugins: [bracketPlugin(brackets, barX, 3.5, 27), groupPlugin(barGroups)]
  });
}

barPanel({l: 693.6, r: 1091.8, t: 540, b: 803.3}, [-0.925, 7.37], peakDensity, peakDensityErr,
  linAxis(-150, 0, [0, -50, -100, -150], intFmt, 'width', 80, {reverse: true}), peakBrackets, false);
barPanel({l: 1255.4, r: 1652, t: 540.7, b: 804}, [-0.906, 7.39], tauMs, tauErr,
  linAxis(0, 2.5, [0, 0.5, 1, 1.5, 2, 2.5], dec1, 'width', 80), tauBrackets, false);
barPanel({l: 134.6, r: 532, t: 1494, b: 1754}, [-0.888, 7.48], vHalfAct, vHalfActErr,
  linAxis(-60, 0, [0, -20, -40, -60], intFmt, 'width', 80, {reverse: true}), actBrackets, true);
barPanel({l: 696, r: 1080, t: 1493.3, b: 1754}, [-0.878, 7.15], vHalfInact, vHalfInactErr,
  linAxis(-80, -20, [-20, -40, -60, -80], intFmt, 'width', 80, {reverse: true}), inactBrackets, false, -20);

// ---------------- E: G-V ----------------
function gvSets(o) {
  return [
    series(gvVoltage, gvGfpDmso, gvGfpDmsoErr, '#000000', o),
    series(gvVoltage, gvFgfDmso, gvFgfDmsoErr, '#990000', o),
    series(gvVoltage, gvFgfJak, gvFgfJakErr, '#f44141', o),
    series(gvVoltage, gvMutDmso, gvMutDmsoErr, '#000080', o),
    series(gvVoltage, gvMutJak, gvMutJakErr, '#5a5aff', o),
    series(gvVoltage, gvGfpJak, gvGfpJakErr, '#cfcfcf', o)
  ];
}
chartAt({l: 134.6, r: 498, t: 1039.3, b: 1303.3}, 72, 55, {top: 20, right: 20}, {
  type: 'line',
  data: {datasets: gvSets()},
  options: {scales: {
    x: linAxis(-130, 10, [-100, -50, 0], intFmt, 'height', 55),
    y: linAxis(-0.1, 1.2, [0, 0.4, 0.8, 1.2], dec1, 'width', 72)
  }},
  plugins: [regionBox(gvInsetX, gvInsetY)]
});
chartAt({l: 187.5, r: 302.8, t: 1071, b: 1231.7}, 0, 0, {top: 4, left: 4, right: 4, bottom: 4}, {
  type: 'line',
  data: {datasets: gvSets({clip: undefined, errClip: true, pointRadius: 6})},
  options: {scales: {
    x: {type: 'linear', display: false, min: gvInsetX[0], max: gvInsetX[1]},
    y: {type: 'linear', display: false, min: gvInsetY[0], max: gvInsetY[1]}
  }},
  plugins: [insetFrame]
}, 2);

// ---------------- F: steady-state inactivation ----------------
function ssiSets(o) {
  return [
    series(ssiVoltage, ssiFgfDmso, ssiFgfDmsoErr, '#990000', o),
    series(ssiVoltage, ssiFgfJak, ssiFgfJakErr, '#f44141', o),
    series(ssiVoltage, ssiMutDmso, ssiMutDmsoErr, '#000080', o),
    series(ssiVoltage, ssiGfpDmso, ssiGfpDmsoErr, '#000000', o),
    series(ssiVoltage, ssiMutJak, ssiMutJakErr, '#5a5aff', o),
    series(ssiVoltage, ssiGfpJak, ssiGfpJakErr, '#cfcfcf', o)
  ];
}
chartAt({l: 696, r: 1060.4, t: 1039.3, b: 1303.3}, 72, 55, {top: 20, right: 20}, {
  type: 'line',
  data: {datasets: ssiSets()},
  options: {scales: {
    x: linAxis(-130, 10, [-100, -50, 0], intFmt, 'height', 55),
    y: linAxis(-0.1, 1.2, [0, 0.4, 0.8, 1.2], dec1, 'width', 72)
  }},
  plugins: [regionBox(ssiInsetX, ssiInsetY)]
});
chartAt({l: 921, r: 1036, t: 1056, b: 1214}, 0, 0, {top: 4, left: 4, right: 4, bottom: 4}, {
  type: 'line',
  data: {datasets: ssiSets({clip: undefined, errClip: true, pointRadius: 6})},
  options: {scales: {
    x: {type: 'linear', display: false, min: ssiInsetX[0], max: ssiInsetX[1]},
    y: {type: 'linear', display: false, min: ssiInsetY[0], max: ssiInsetY[1]}
  }},
  plugins: [insetFrame]
}, 2);

// ---------------- G: long-term inactivation ----------------
chartAt({l: 1255.4, r: 1652, t: 1039.3, b: 1303.3}, 72, 55, {top: 20, right: 10}, {
  type: 'line',
  data: {datasets: [
    series(ltiCycle, ltiGfpDmso, ltiGfpDmsoErr, '#000000'),
    series(ltiCycle, ltiMutDmso, ltiMutDmsoErr, '#000080'),
    series(ltiCycle, ltiFgfDmso, ltiFgfDmsoErr, '#a00000'),
    series(ltiCycle, ltiFgfJak, ltiFgfJakErr, '#f44141'),
    series(ltiCycle, ltiGfpJak, ltiGfpJakErr, '#a3a3a3'),
    series(ltiCycle, ltiMutJak, ltiMutJakErr, '#5a5aff')
  ]},
  options: {scales: {
    x: linAxis(1, 4, [1, 2, 3, 4], intFmt, 'height', 55),
    y: linAxis(0.6, 1.2, [0.6, 0.9, 1.2], dec1, 'width', 72)
  }}
});

// ---------------- J: pulses ----------------
chartAt({l: 1257, r: 1652.6, t: 1455, b: 1754}, 75, 45, {top: 40, right: 8}, {
  type: 'bar',
  data: {
    labels: pulseLabels,
    datasets: jValues.map((vals, k) => ({
      label: jNames[k].replace(/<[^>]+>/g, ''), data: vals,
      backgroundColor: jColors[k], borderColor: '#000', borderWidth: 2.5, borderSkipped: 'start',
      base: 0.6, categoryPercentage: 0.873, barPercentage: 0.7,
      errors: jErrors[k], errColor: '#000', errWidth: 2.5, capHalf: 4
    }))
  },
  options: {scales: {
    x: {type: 'category', offset: true, afterFit: s => { s.height = 45; }, border: axBorder(),
        grid: {display: false, drawTicks: false}, ticks: {padding: 4, maxRotation: 0, autoSkip: false, font: {size: 27}}},
    y: linAxis(0.6, 1.4, [0.6, 0.8, 1.0, 1.2, 1.4], dec1, 'width', 75)
  }},
  plugins: [bracketPlugin(jBrackets.map(([c, a, b, l, ea, eb, t, col]) => [[c, a], [c, b], l, ea, eb, t, col]), jX, 3, 25)]
});

// legend for J
(function () {
  const box = document.createElement('div');
  box.id = 'legendJ';
  page.appendChild(box);
  const swX = [11, 237], txX = [52, 278], rowY = [14, 51, 88];
  jNames.forEach((name, k) => {
    const col = k % 2, row = Math.floor(k / 2);
    const sw = document.createElement('div');
    sw.className = 'sw';
    sw.style.left = swX[col] + 'px'; sw.style.top = (rowY[row] - 5) + 'px';
    sw.style.background = jColors[k];
    box.appendChild(sw);
    const lt = document.createElement('div');
    lt.className = 'lt';
    lt.style.left = txX[col] + 'px'; lt.style.top = rowY[row] + 'px';
    lt.innerHTML = name;
    box.appendChild(lt);
  });
})();

// ---------------- text ----------------
function txt(html, x, y, size, o) {
  o = o || {};
  const d = document.createElement('div');
  d.className = 't';
  d.innerHTML = html;
  const tr = o.left ? 'translate(0,-50%)' : 'translate(-50%,-50%)';
  d.style.left = x + 'px';
  d.style.top = y + 'px';
  d.style.fontSize = size + 'px';
  d.style.transform = tr + (o.rot ? ' rotate(-90deg)' : '');
  if (o.bold) d.style.fontWeight = 'bold';
  page.appendChild(d);
}

[['A', 24.5, 24.5], ['B', 26, 496.5], ['C', 574, 497], ['D', 1127.5, 497], ['E', 26, 971.5], ['F', 571, 972.5],
 ['G', 1129, 972.5], ['H', 24, 1418], ['I', 563.5, 1418], ['J', 1124, 1418]]
  .forEach(([l, x, y]) => txt(l, x, y, 50, {bold: true}));

txt('GFP+DMSO', 262.7, 74, 34);
txt('FGF14-GFP+DMSO', 862, 74, 34);
txt('FGF14<span class="sup">Y158A</span>-GFP+DMSO', 1413, 78, 34);
txt('GFP+JAK2 In.', 262, 259, 34);
txt('FGF14-GFP+JAK2 In.', 862, 259, 34);
txt('FGF14<span class="sup">Y158A</span>-GFP+JAK2 In.', 1420, 262, 34);
txt('50', 553, 177, 23, {left: true});
txt('pA/pF', 553, 211, 23, {left: true});
txt('1 ms', 487, 239, 23, {left: true});

txt('Voltage (mV)', 294.6, 553, TITLE);
txt('pA/pF', 427, 747, TITLE, {rot: true});
txt('Peak Current Density', 579, 668, TITLE, {rot: true});
txt('(pA/pF)', 617, 667, TITLE, {rot: true});
txt('Tau (ms)', 1173.7, 669, TITLE, {rot: true});
txt('Normalized conductance', 60.7, 1166.7, TITLE, {rot: true});
txt('Voltage (mV)', 314, 1374, TITLE);
txt('Normalized current', 609, 1166.7, TITLE, {rot: true});
txt('Voltage (mV)', 878, 1375, TITLE);
txt('% Maximal Na<span class="hsup">+</span> Current', 1179, 1166, TITLE, {rot: true});
txt('Long-term inactivation', 1454, 1022.7, TITLE);
txt('Depolarization cycle', 1454, 1374, TITLE);
txt('V<span class="sub">1/2</span> activation (mV)', 53.6, 1620, TITLE, {rot: true});
txt('V<span class="sub">1/2</span> steady state', 590.6, 1620, TITLE, {rot: true});
txt('inactivation (mV)', 626, 1620, TITLE, {rot: true});
txt('% Maximal Na<span class="hsup">+</span> Current', 1179, 1600, TITLE, {rot: true});
</script>
</body>
</html>
